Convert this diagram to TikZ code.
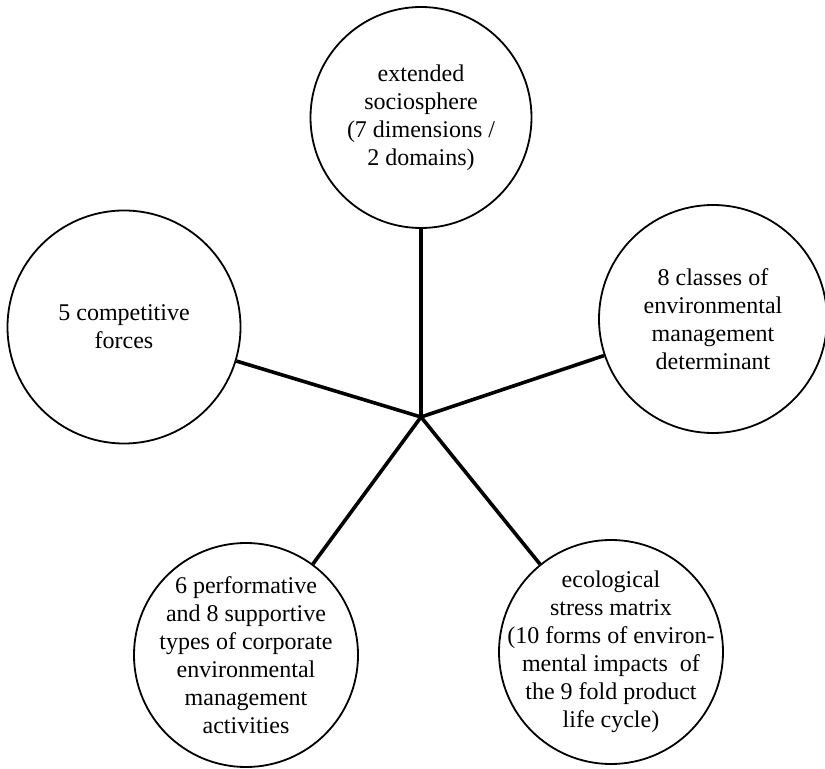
\documentclass[tikz,border=0pt]{standalone}
\usepackage{fontspec}
\setmainfont{Liberation Serif}
\usepackage{tikz}

\begin{document}
\begin{tikzpicture}[x=0.5pt,y=-0.5pt,
		bubble/.style={draw, circle, line width=0.9pt, inner sep=0pt},
		blurb/.style={align=center, font=\fontsize{12}{14}\selectfont},
		spoke/.style={line width=1.8pt}]
			\useasboundingbox (0,0) rectangle (825,769);
			\coordinate (hub) at (421,417);
			% circles
			\node[bubble, minimum size=110.5pt] (socio) at (421,117.5) {};
			\node[bubble, minimum size=116.5pt] (forces) at (124,327) {};
			\node[bubble, minimum size=114pt] (determ) at (713,319) {};
			\node[bubble, minimum size=112pt] (activ) at (246,655) {};
			\node[bubble, minimum size=112pt] (stress) at (611,652) {};
			% texts
			\node[blurb] (socio-t) at (socio) {extended\\sociosphere\\(7 dimensions /\\2 domains)};
			\node[blurb] (forces-t) at (forces) {5 competitive\\forces};
			\node[blurb] (determ-t) at (determ) {8 classes of\\environmental\\management\\determinant};
			\node[blurb] (activ-t) at (activ) {6 performative\\and 8 supportive\\types of corporate\\environmental\\management\\activities};
			\node[blurb] (stress-t) at (stress) {ecological\\stress matrix\\(10 forms of environ-\\mental impacts~ of\\the 9 fold product\\life cycle)};
			% spokes
			\foreach \n in {socio, forces, determ, activ, stress}
				\draw[spoke] (hub) -- (\n);
		\end{tikzpicture}
\end{document}
